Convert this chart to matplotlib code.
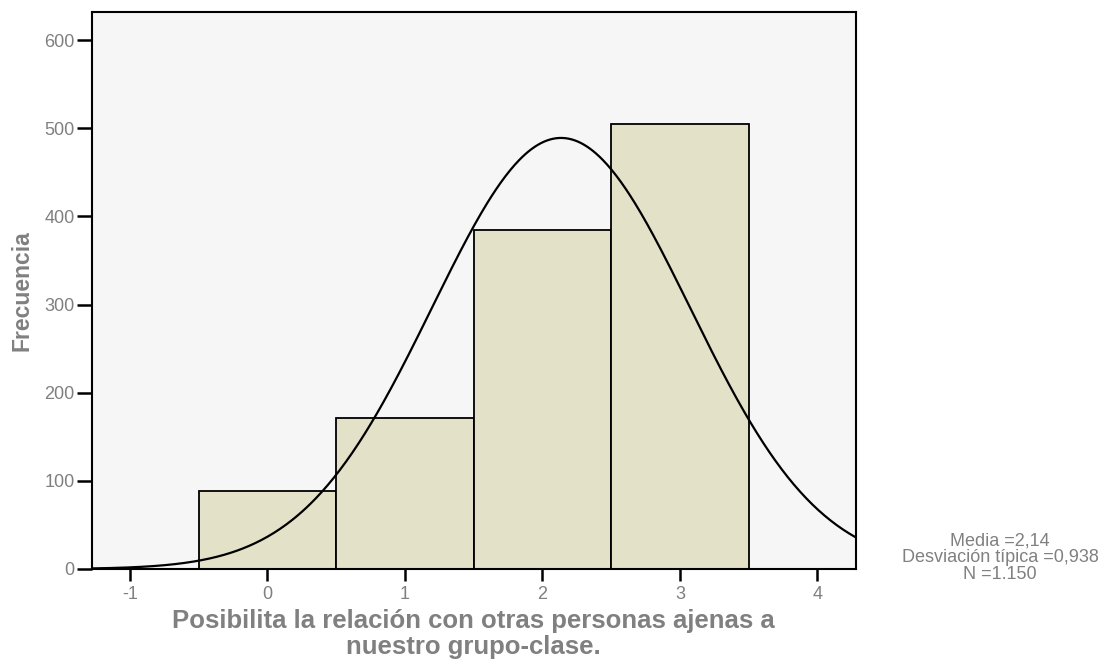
import numpy as np
import matplotlib
matplotlib.use("Agg")
import matplotlib.pyplot as plt

plt.rcParams['font.family'] = ['Liberation Sans', 'DejaVu Sans']

categories = [0, 1, 2, 3]
counts = [89, 171, 385, 505]
xticks = [-1, 0, 1, 2, 3, 4]
yticks = [0, 100, 200, 300, 400, 500, 600]
stats_text = "Media =2,14\nDesviación típica =0,938\nN =1.150"
xlabel = "Posibilita la relación con otras personas ajenas a\nnuestro grupo-clase."
ylabel = "Frecuencia"

gray = "#808080"
fig = plt.figure(figsize=(11.18, 6.61), dpi=100)
ax = fig.add_axes([0.0823, 0.1392, 0.7654 - 0.0823, 0.9818 - 0.1392])
ax.set_facecolor("#F6F6F6")

ax.bar(categories, counts, width=1.0, color="#E3E1C7", edgecolor="black", linewidth=1.3, zorder=2)

vals = np.repeat(categories, counts)
n = len(vals)
mu = vals.mean()
sd = vals.std(ddof=1)
xs = np.linspace(-1.3, 4.3, 500)
ys = n * 1.0 / (sd * np.sqrt(2 * np.pi)) * np.exp(-0.5 * ((xs - mu) / sd) ** 2)
ax.plot(xs, ys, color="black", linewidth=1.6, zorder=3)

ax.set_xlim(-1.276, 4.279)
ax.set_ylim(0, 632)
ax.set_xticks(xticks)
ax.set_xticklabels([str(t) for t in xticks])
ax.set_yticks(yticks)
for s in ax.spines.values():
    s.set_linewidth(1.5)
ax.tick_params(direction="out", width=1.8, colors="black",
               labelcolor=gray, labelsize=13)
ax.tick_params(axis="x", length=8.6, pad=3.5)
ax.tick_params(axis="y", length=11, pad=1.5)
ax.set_xlabel(xlabel, fontsize=18.5, fontweight="bold", color=gray, linespacing=1.12,
              va="top")
ax.xaxis.set_label_coords(0.5, -0.071)
ax.set_ylabel(ylabel, fontsize=16.5, fontweight="bold", color=gray)
ax.yaxis.set_label_coords(-0.077, 0.5)

fig.text(0.8945, 0.156, stats_text, ha="center", va="center", fontsize=13,
         color=gray, linespacing=0.98)

fig.savefig("out.png", dpi=100)
